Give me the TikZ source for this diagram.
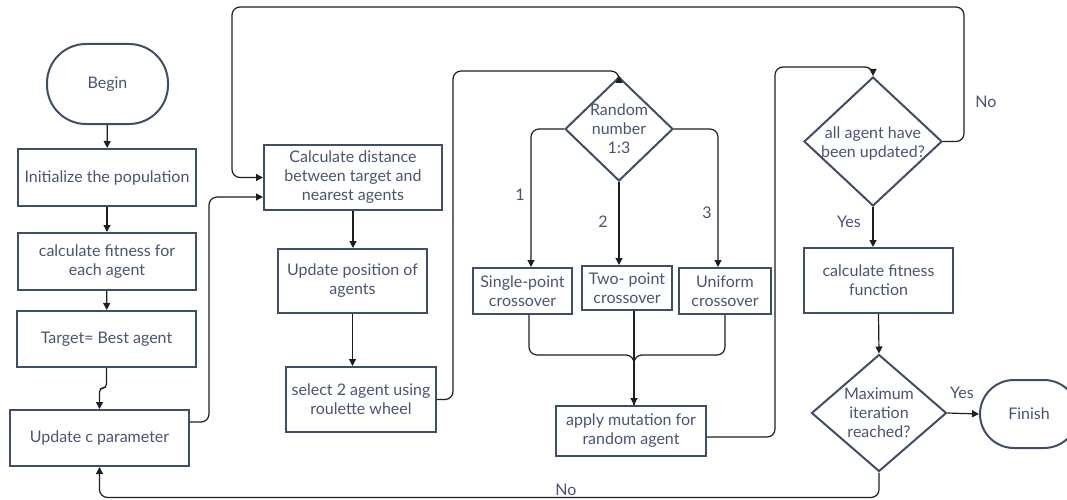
\documentclass[tikz,border=0pt]{standalone}
\usepackage{fontspec}
\setmainfont{Lato}
\usetikzlibrary{shapes.geometric,arrows.meta,calc}

\definecolor{edgeblue}{RGB}{62,78,102}
\definecolor{txtblue}{RGB}{72,84,112}
\definecolor{wire}{RGB}{30,30,30}

\tikzset{
  every node/.style={font=\fontsize{16}{19}\selectfont, text=txtblue},
  procbox/.style={draw=edgeblue, line width=2pt, rectangle, align=center, inner sep=1pt},
  term/.style={draw=edgeblue, line width=2pt, rectangle, align=center},
  decision/.style={draw=edgeblue, line width=2pt, diamond, inner sep=0pt},
  conn/.style={draw=wire, line width=1.2pt, rounded corners=8pt,
    -{Triangle[width=7pt,length=7pt]}},
  flow/.style={draw=wire, line width=1.2pt, rounded corners=8pt},
  lbl/.style={inner sep=0pt}
}

\begin{document}
\begin{tikzpicture}[x=1pt,y=-1pt]
\useasboundingbox (0,0) rectangle (1067,500);

% left column
\node[term, rounded corners=39pt, minimum width=121pt, minimum height=80pt] (begin) at (107.5,84) {Begin};
\node[procbox, minimum width=178pt, minimum height=57pt] (init) at (107,177.5) {Initialize the population};
\node[procbox, minimum width=178pt, minimum height=57pt] (fit) at (107,261.5) {calculate fitness for\\each agent};
\node[procbox, minimum width=179pt, minimum height=56pt] (target) at (106.5,339) {Target= Best agent};
\node[procbox, minimum width=179pt, minimum height=56pt] (upc) at (99.5,438) {Update c parameter};

% second column
\node[procbox, minimum width=178pt, minimum height=65pt] (dist) at (353,177.5) {Calculate distance\\between target and\\nearest agents};
\node[procbox, minimum width=149pt, minimum height=64pt] (upos) at (352.5,281) {Update position of\\agents};
\node[procbox, minimum width=150pt, minimum height=65pt] (sel) at (361,399.5) {select 2 agent using\\roulette wheel};

% crossover choice
\node[decision, minimum width=108pt, minimum height=104pt,
  label={[align=center, text=txtblue]center:Random\\number\\1:3}] (rnd) at (619,129) {};
\node[procbox, minimum width=99pt, minimum height=46pt] (single) at (522.5,291) {Single-point\\crossover};
\node[procbox, minimum width=90pt, minimum height=44pt] (two) at (627,288) {Two- point\\crossover};
\node[procbox, minimum width=92pt, minimum height=46pt] (uni) at (725,291) {Uniform\\crossover};
\node[procbox, minimum width=150pt, minimum height=50pt] (mut) at (631,431) {apply mutation for\\random agent};

% right column
\node[decision, minimum width=138pt, minimum height=129pt,
  label={[align=center, text=txtblue, yshift=-2pt]center:all agent have\\been updated?}] (alld) at (873,141.5) {};
\node[procbox, minimum width=149pt, minimum height=65pt] (calcfit) at (878.5,280.5) {calculate fitness\\function};
\node[decision, minimum width=135pt, minimum height=117pt,
  label={[align=center, text=txtblue]center:Maximum\\iteration\\reached?}] (maxd) at (879,413) {};
\node[term, rounded corners=34pt, minimum width=98pt, minimum height=68pt] (fin) at (1029,414) {Finish};

% waypoints of the long loops
\coordinate (topR) at (964,7);
\coordinate (topL) at (232,7);
\coordinate (mrg) at (634,355);

% left column flow
\draw[conn] (begin) -- (init);
\draw[conn] (init) -- (fit);
\draw[conn] (fit) -- (target);
\draw[conn, rounded corners=4pt] (target.south) -- ++(0,20) -| (upc.north);
\draw[conn] ([yshift=16pt]upc.east) -| ([xshift=-54pt,yshift=-19.5pt]dist.west) -- ([yshift=-19.5pt]dist.west);

% main loop back from the update check
\draw[conn] (alld.east) -| (topR) -- (topL) |- (dist.west);

% second column flow
\draw[conn] (dist.south) -- (dist.south |- upos.north);
\draw[conn] (upos.south) -- (upos.south |- sel.north);
\draw[conn] (sel.east) -| ([xshift=-166pt,yshift=5pt]rnd.north) -- ([yshift=5pt]rnd.north) [sharp corners] -- (rnd.north);

% crossover branches
\draw[conn] (rnd.west) -| ([xshift=8.5pt]single.north);
\draw[conn] (rnd.south) -- (rnd.south |- two.north);
\draw[conn] (rnd.east) -| ([xshift=-7pt]uni.north);
\node[lbl] (n1) at (520,195) {1};
\node[lbl] (n2) at (603,222) {2};
\node[lbl] (n3) at (707,213) {3};

% merge into mutation
\draw[flow] ([xshift=6.5pt]single.south) |- (mrg) -- ([xshift=3pt]mut.north);
\draw[flow] (uni.south) |- (mrg) -- ([xshift=3pt]mut.north);
\draw[conn] ([xshift=7pt]two.south) -- ([xshift=3pt]mut.north);

% mutation to update check
\draw[conn] ([yshift=-6pt]mut.east) -| ([xshift=-98pt,yshift=9pt]alld.north) -- ([yshift=9pt]alld.north) [sharp corners] -- (alld.north);

% right column flow
\draw[conn] (alld.south) -- (alld.south |- calcfit.north);
\draw[conn] (calcfit.south) -- (maxd.north);
\draw[conn] (maxd.east) -- (fin.west);
\draw[conn] (maxd.south) -- ++(0,25) -| (upc.south);

% branch labels
\node[lbl] (no1) at (986,102) {No};
\node[lbl] (yes1) at (849,222) {Yes};
\node[lbl] (yes2) at (962,393) {Yes};
\node[lbl] (no2) at (566,490) {No};
\end{tikzpicture}
\end{document}
